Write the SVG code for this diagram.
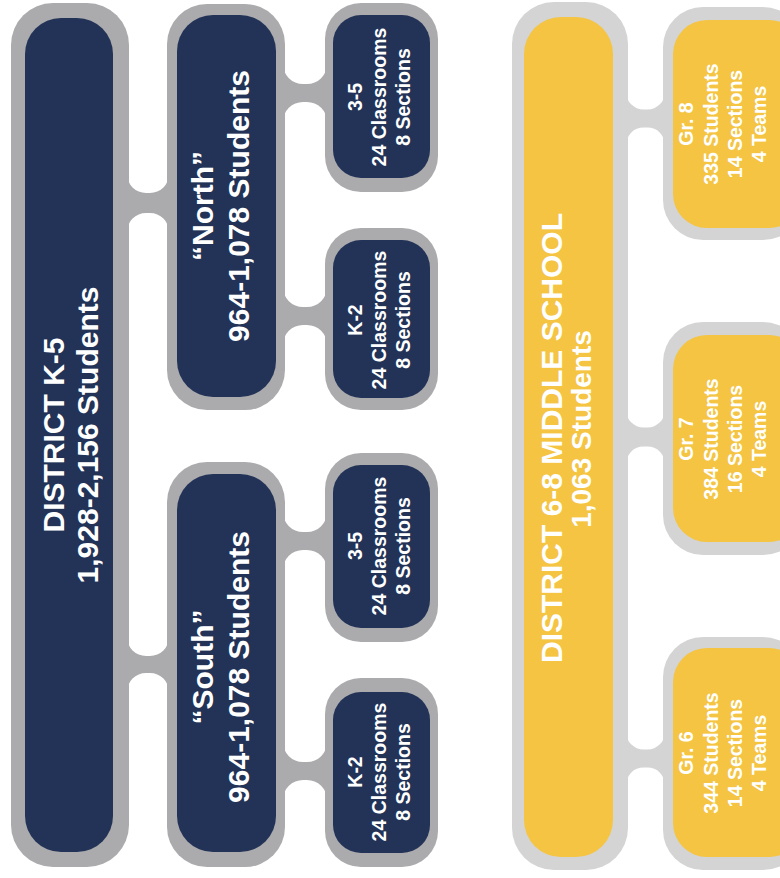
<svg xmlns="http://www.w3.org/2000/svg" width="780" height="878" viewBox="0 0 780 878">
<style>
.go{fill:#ABAAAD}
.gy{fill:#D4D4D4}
.nv{fill:#223357}
.yl{fill:#F4C442}
text{font-family:"Liberation Sans",Arial,sans-serif;font-weight:bold;fill:#FFFFFF;text-anchor:middle}
.big{font-size:30px}
.sm{font-size:19.5px}
</style>
<rect width="780" height="878" fill="#FFFFFF"/>
<g id="connectors">
<path class="go" d="M127,174 A19 19 0 0 0 146,193 L150,193 A19 19 0 0 0 169,174 L169,232 A19 19 0 0 0 150,213 L146,213 A19 19 0 0 0 127,232 Z"/>
<path class="go" d="M127,637 A19 19 0 0 0 146,656 L150,656 A19 19 0 0 0 169,637 L169,692 A19 19 0 0 0 150,673 L146,673 A19 19 0 0 0 127,692 Z"/>
<path class="go" d="M283,64 A20 20 0 0 0 303,84 L307,84 A20 20 0 0 0 327,64 L327,122 A20 20 0 0 0 307,102 L303,102 A20 20 0 0 0 283,122 Z"/>
<path class="go" d="M283,287 A20 20 0 0 0 303,307 L307,307 A20 20 0 0 0 327,287 L327,345 A20 20 0 0 0 307,325 L303,325 A20 20 0 0 0 283,345 Z"/>
<path class="go" d="M283,512 A20 20 0 0 0 303,532 L307,532 A20 20 0 0 0 327,512 L327,570 A20 20 0 0 0 307,550 L303,550 A20 20 0 0 0 283,570 Z"/>
<path class="go" d="M283,742 A20 20 0 0 0 303,762 L307,762 A20 20 0 0 0 327,742 L327,800 A20 20 0 0 0 307,780 L303,780 A20 20 0 0 0 283,800 Z"/>
<path class="gy" d="M626,92 A17.5 17.5 0 0 0 643.5,109.5 L647.5,109.5 A17.5 17.5 0 0 0 665,92 L665,145 A17.5 17.5 0 0 0 647.5,127.5 L643.5,127.5 A17.5 17.5 0 0 0 626,145 Z"/>
<path class="gy" d="M626,410 A17.5 17.5 0 0 0 643.5,427.5 L647.5,427.5 A17.5 17.5 0 0 0 665,410 L665,464 A17.5 17.5 0 0 0 647.5,446.5 L643.5,446.5 A17.5 17.5 0 0 0 626,464 Z"/>
<path class="gy" d="M626,732 A17.5 17.5 0 0 0 643.5,749.5 L647.5,749.5 A17.5 17.5 0 0 0 665,732 L665,785 A17.5 17.5 0 0 0 647.5,767.5 L643.5,767.5 A17.5 17.5 0 0 0 626,785 Z"/>
</g>
<g id="district-k5">
<rect class="go" x="11" y="3" width="118" height="864" rx="42"/>
<rect class="nv" x="25" y="18" width="88" height="834" rx="36"/>
<text class="big" transform="translate(64,435) rotate(-90)">DISTRICT K-5</text>
<text class="big" transform="translate(98,435) rotate(-90)">1,928-2,156 Students</text>
</g>
<g id="north">
<rect class="go" x="167" y="4" width="118" height="406" rx="40"/>
<rect class="nv" x="177" y="15" width="99" height="382" rx="36"/>
<text class="big" transform="translate(213,206) rotate(-90)">“North”</text>
<text class="big" transform="translate(249,206) rotate(-90)">964-1,078 Students</text>
</g>
<g id="south">
<rect class="go" x="167" y="462" width="118" height="405" rx="40"/>
<rect class="nv" x="177" y="474" width="99" height="378" rx="36"/>
<text class="big" transform="translate(213,667) rotate(-90)">“South”</text>
<text class="big" transform="translate(249,667) rotate(-90)">964-1,078 Students</text>
</g>
<g id="north-35">
<rect class="go" x="325" y="3" width="113" height="189" rx="36"/>
<rect class="nv" x="333" y="15" width="97" height="163" rx="28"/>
<text class="sm" transform="translate(362,97) rotate(-90)">3-5</text>
<text class="sm" transform="translate(386,97) rotate(-90)">24 Classrooms</text>
<text class="sm" transform="translate(410,97) rotate(-90)">8 Sections</text>
</g>
<g id="north-k2">
<rect class="go" x="325" y="228" width="113" height="182" rx="36"/>
<rect class="nv" x="333" y="240" width="97" height="158" rx="28"/>
<text class="sm" transform="translate(362,320) rotate(-90)">K-2</text>
<text class="sm" transform="translate(386,320) rotate(-90)">24 Classrooms</text>
<text class="sm" transform="translate(410,320) rotate(-90)">8 Sections</text>
</g>
<g id="south-35">
<rect class="go" x="325" y="453" width="113" height="189" rx="36"/>
<rect class="nv" x="333" y="465" width="97" height="163" rx="28"/>
<text class="sm" transform="translate(362,546) rotate(-90)">3-5</text>
<text class="sm" transform="translate(386,546) rotate(-90)">24 Classrooms</text>
<text class="sm" transform="translate(410,546) rotate(-90)">8 Sections</text>
</g>
<g id="south-k2">
<rect class="go" x="325" y="678" width="113" height="189" rx="36"/>
<rect class="nv" x="333" y="692" width="97" height="161" rx="28"/>
<text class="sm" transform="translate(362,772) rotate(-90)">K-2</text>
<text class="sm" transform="translate(386,772) rotate(-90)">24 Classrooms</text>
<text class="sm" transform="translate(410,772) rotate(-90)">8 Sections</text>
</g>
<g id="district-68">
<rect class="gy" x="512" y="2" width="116" height="868" rx="42"/>
<rect class="yl" x="524" y="17" width="89" height="840" rx="37"/>
<text class="big" transform="translate(562,438) rotate(-90)">DISTRICT 6-8 MIDDLE SCHOOL</text>
<text style="font-size:28px" transform="translate(591,429) rotate(-90)">1,063 Students</text>
</g>
<g id="gr8">
<rect class="gy" x="663" y="7" width="140" height="233" rx="40"/>
<rect class="yl" x="673" y="20" width="130" height="208" rx="34"/>
<text class="sm" transform="translate(693,124) rotate(-90)">Gr. 8</text>
<text class="sm" transform="translate(718,124) rotate(-90)">335 Students</text>
<text class="sm" transform="translate(742,124) rotate(-90)">14 Sections</text>
<text class="sm" transform="translate(766,124) rotate(-90)">4 Teams</text>
</g>
<g id="gr7">
<rect class="gy" x="663" y="322" width="140" height="233" rx="40"/>
<rect class="yl" x="673" y="335" width="130" height="207" rx="34"/>
<text class="sm" transform="translate(693,439) rotate(-90)">Gr. 7</text>
<text class="sm" transform="translate(718,439) rotate(-90)">384 Students</text>
<text class="sm" transform="translate(742,439) rotate(-90)">16 Sections</text>
<text class="sm" transform="translate(766,439) rotate(-90)">4 Teams</text>
</g>
<g id="gr6">
<rect class="gy" x="663" y="637" width="140" height="233" rx="40"/>
<rect class="yl" x="673" y="648" width="130" height="209" rx="34"/>
<text class="sm" transform="translate(693,753) rotate(-90)">Gr. 6</text>
<text class="sm" transform="translate(718,753) rotate(-90)">344 Students</text>
<text class="sm" transform="translate(742,753) rotate(-90)">14 Sections</text>
<text class="sm" transform="translate(766,753) rotate(-90)">4 Teams</text>
</g>
</svg>
